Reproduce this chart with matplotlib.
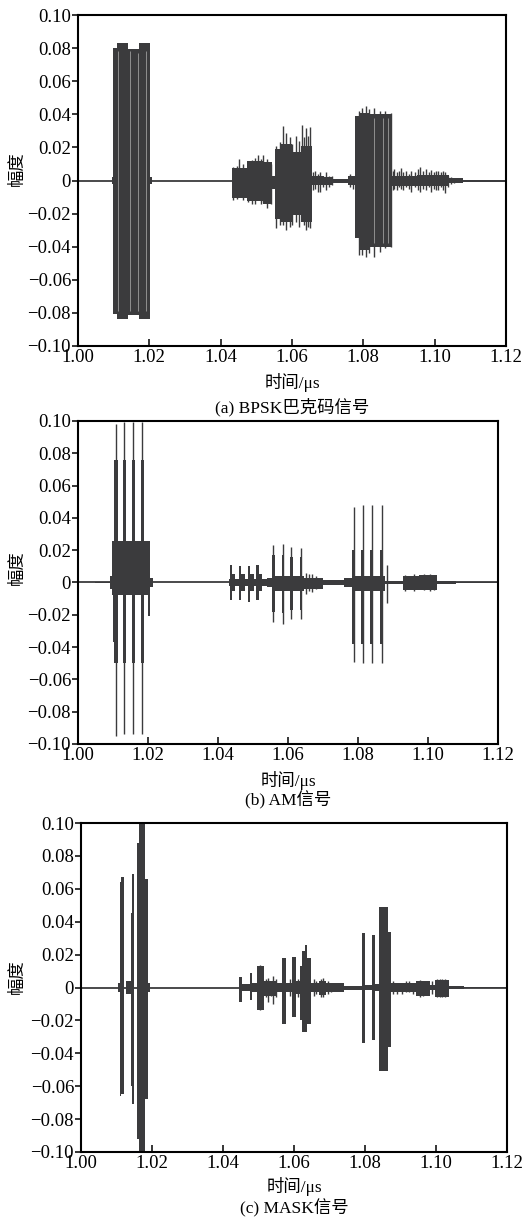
import numpy as np
import matplotlib
matplotlib.use("Agg")
import matplotlib.pyplot as plt

plt.rcParams['font.family'] = ['Liberation Serif', 'Noto Sans CJK SC', 'DejaVu Sans']
plt.rcParams['axes.unicode_minus'] = True

INK = '#3b3b3d'
W, H = 528, 1223

# ---- axis ticks ----
x_ticks = [1.00, 1.02, 1.04, 1.06, 1.08, 1.10, 1.12]
x_tick_labels = ['1.00', '1.02', '1.04', '1.06', '1.08', '1.10', '1.12']
y_ticks = [0.10, 0.08, 0.06, 0.04, 0.02, 0.0, -0.02, -0.04, -0.06, -0.08, -0.10]
y_tick_labels = ['0.10', '0.08', '0.06', '0.04', '0.02', '0',
                 '\u22120.02', '\u22120.04', '\u22120.06', '\u22120.08', '\u22120.10']
captions = ['(a) BPSK巴克码信号', '(b) AM信号', '(c) MASK信号']

# ---- (a) BPSK: envelope blocks (start, end, upper, lower) ----
bpsk_t0 = [1.0094, 1.0099, 1.0110, 1.0140, 1.0170, 1.0202,
           1.0431, 1.0473, 1.0520, 1.0545,
           1.0552, 1.0570, 1.0600, 1.0625,
           1.0655, 1.0690, 1.0716, 1.0758,
           1.0777, 1.0788, 1.0820,
           1.0880, 1.0950, 1.1039, 1.1080]
bpsk_t1 = [1.0099, 1.0110, 1.0140, 1.0170, 1.0202, 1.0208,
           1.0473, 1.0520, 1.0545, 1.0553,
           1.0570, 1.0600, 1.0625, 1.0655,
           1.0690, 1.0716, 1.0758, 1.0777,
           1.0788, 1.0820, 1.0880,
           1.0950, 1.1039, 1.1080, 1.1200]
bpsk_hi = [0.002, 0.0800, 0.0830, 0.0795, 0.0830, 0.002,
           0.0075, 0.0115, 0.0110, 0.003,
           0.019, 0.022, 0.017, 0.021,
           0.0025, 0.002, 0.0012, 0.003,
           0.039, 0.041, 0.040,
           0.003, 0.0035, 0.0015, 0.0006]
bpsk_lo = [-0.002, -0.0805, -0.0835, -0.0815, -0.0835, -0.002,
           -0.0105, -0.0125, -0.0140, -0.005,
           -0.023, -0.025, -0.021, -0.025,
           -0.003, -0.0025, -0.0015, -0.003,
           -0.035, -0.042, -0.040,
           -0.0035, -0.0035, -0.0015, -0.0008]
bpsk_spk_t = [1.0435, 1.0445, 1.0452, 1.0463, 1.0478, 1.0488, 1.0497, 1.0505, 1.0512,
              1.0519, 1.0529, 1.0540,
              1.0556, 1.0565, 1.0574, 1.0583, 1.0593, 1.0600, 1.0612, 1.0620,
              1.0627, 1.0633, 1.0639, 1.0645, 1.0650,
              1.0660, 1.0665, 1.0672, 1.0678, 1.0686, 1.0695, 1.0704, 1.0712, 1.0762, 1.0770,
              1.0787, 1.0795, 1.0808, 1.0816, 1.0830, 1.0848, 1.0862, 1.0878,
              1.0884, 1.0887, 1.0893, 1.0900, 1.0905, 1.0912, 1.0920, 1.0928, 1.0935,
              1.0945, 1.0953, 1.0960, 1.0968, 1.0975, 1.0983, 1.0990, 1.0998,
              1.1004, 1.1010, 1.1018, 1.1024, 1.1030, 1.1036, 1.1045, 1.1055]
bpsk_spk_hi = [0.008, 0.0085, 0.0127, 0.010, 0.012, 0.0125, 0.0135, 0.0155, 0.013,
               0.0157, 0.013, 0.010,
               0.021, 0.023, 0.0329, 0.0284, 0.026, 0.022, 0.027, 0.024,
               0.0335, 0.026, 0.0315, 0.027, 0.0325,
               0.005, 0.006, 0.004, 0.005, 0.003, 0.005, 0.003, 0.003, 0.004, 0.003,
               0.042, 0.044, 0.045, 0.043, 0.044, 0.042, 0.042, 0.041,
               0.006, 0.007, 0.005, 0.006, 0.0075, 0.005, 0.006, 0.004, 0.006,
               0.005, 0.007, 0.008, 0.006, 0.007, 0.005, 0.0065, 0.005,
               0.006, 0.006, 0.005, 0.0055, 0.005, 0.003, 0.002, 0.0015]
bpsk_spk_lo = [-0.012, -0.011, -0.010, -0.012, -0.013, -0.014, -0.014, -0.012, -0.0145,
               -0.013, -0.0168, -0.014,
               -0.029, -0.027, -0.027, -0.030, -0.028, -0.027, -0.025, -0.028,
               -0.024, -0.027, -0.030, -0.028, -0.029,
               -0.006, -0.005, -0.007, -0.007, -0.004, -0.006, -0.004, -0.003, -0.004, -0.005,
               -0.045, -0.045, -0.046, -0.044, -0.046, -0.043, -0.041, -0.040,
               -0.006, -0.005, -0.006, -0.004, -0.005, -0.006, -0.004, -0.005, -0.007,
               -0.004, -0.006, -0.007, -0.005, -0.006, -0.004, -0.007, -0.005,
               -0.006, -0.006, -0.004, -0.006, -0.0075, -0.004, -0.002, -0.0015]
bpsk_gap_t = [1.0113, 1.0146, 1.0167, 1.0191, 1.0830, 1.0856, 1.0868]
bpsk_gap_hi = [0.078, 0.078, 0.077, 0.078, 0.038, 0.038, 0.038]
bpsk_gap_lo = [-0.079, -0.079, -0.079, -0.079, -0.038, -0.038, -0.038]

# ---- (b) AM ----
am_t0 = [1.0050, 1.0092, 1.0097, 1.0100, 1.0104, 1.0128, 1.0154, 1.0180, 1.0200, 1.0206,
         1.0432, 1.0433, 1.0439, 1.0459, 1.0466, 1.0485, 1.0492, 1.0510, 1.0517, 1.0540,
         1.0553, 1.0555, 1.0582, 1.0606, 1.0633, 1.0645, 1.0700, 1.0760,
         1.0782, 1.0782, 1.0809, 1.0835, 1.0862, 1.0876, 1.0882,
         1.0928, 1.0975, 1.1025, 1.1080]
am_t1 = [1.0092, 1.0097, 1.0205, 1.0104, 1.0114, 1.0138, 1.0164, 1.0190, 1.0206, 1.0214,
         1.0540, 1.0439, 1.0449, 1.0466, 1.0476, 1.0492, 1.0502, 1.0517, 1.0527, 1.0553,
         1.0645, 1.0562, 1.0589, 1.0613, 1.0640, 1.0700, 1.0760, 1.0782,
         1.0876, 1.0789, 1.0816, 1.0842, 1.0869, 1.0928, 1.0886,
         1.0975, 1.1025, 1.1080, 1.1200]
am_hi = [0.0006, 0.004, 0.026, 0.026, 0.076, 0.076, 0.076, 0.076, 0.026, 0.003,
         0.002, 0.011, 0.005, 0.0105, 0.005, 0.010, 0.005, 0.011, 0.005, 0.003,
         0.004, 0.017, 0.017, 0.016, 0.016, 0.003, 0.0015, 0.003,
         0.004, 0.020, 0.020, 0.020, 0.020, 0.0012, 0.006,
         0.004, 0.0045, 0.001, 0.0004]
am_lo = [-0.0006, -0.004, -0.008, -0.037, -0.050, -0.050, -0.050, -0.050, -0.021, -0.003,
         -0.002, -0.011, -0.005, -0.011, -0.005, -0.012, -0.005, -0.011, -0.005, -0.003,
         -0.005, -0.018, -0.019, -0.017, -0.017, -0.004, -0.0018, -0.003,
         -0.005, -0.038, -0.038, -0.038, -0.038, -0.0012, -0.010,
         -0.0045, -0.0045, -0.001, -0.0004]
am_spk_t = [1.0108, 1.0132, 1.0158, 1.0184,
            1.0558, 1.0585, 1.0609, 1.0636, 1.0652, 1.0660, 1.0670, 1.0680,
            1.0788, 1.0815, 1.0841, 1.0868, 1.0884,
            1.0935, 1.0960, 1.0990, 1.1005, 1.1018]
am_spk_hi = [0.098, 0.0995, 0.0995, 0.0995,
             0.0232, 0.0238, 0.022, 0.0215, 0.006, 0.005, 0.005, 0.004,
             0.047, 0.048, 0.048, 0.048, 0.011,
             0.0048, 0.005, 0.005, 0.005, 0.0045]
am_spk_lo = [-0.095, -0.094, -0.094, -0.094,
             -0.0243, -0.026, -0.0228, -0.0228, -0.007, -0.005, -0.006, -0.004,
             -0.049, -0.050, -0.050, -0.050, -0.013,
             -0.005, -0.005, -0.0048, -0.005, -0.0045]
am_gap_t, am_gap_hi, am_gap_lo = [], [], []

# ---- (c) MASK ----
mask_t0 = [1.0104, 1.0110, 1.0114, 1.0127, 1.0140, 1.0144, 1.0159, 1.0164, 1.0179, 1.0188,
           1.0445, 1.0454, 1.0476, 1.0482, 1.0496, 1.0515, 1.0552, 1.0567, 1.0577, 1.0595,
           1.0606, 1.0616, 1.0623, 1.0631, 1.0638, 1.0647, 1.0670, 1.0689, 1.0740,
           1.0791, 1.0800, 1.0819, 1.0828, 1.0840, 1.0864,
           1.0872, 1.0944, 1.0982, 1.0998, 1.1038, 1.1080]
mask_t1 = [1.0110, 1.0114, 1.0121, 1.0140, 1.0144, 1.0150, 1.0164, 1.0179, 1.0188, 1.0195,
           1.0454, 1.0476, 1.0482, 1.0496, 1.0515, 1.0552, 1.0567, 1.0577, 1.0595, 1.0606,
           1.0616, 1.0623, 1.0631, 1.0638, 1.0647, 1.0670, 1.0689, 1.0740, 1.0791,
           1.0800, 1.0819, 1.0828, 1.0840, 1.0864, 1.0872,
           1.0944, 1.0982, 1.0998, 1.1038, 1.1080, 1.1200]
mask_hi = [0.003, 0.064, 0.067, 0.004, 0.045, 0.069, 0.088, 0.100, 0.066, 0.003,
           0.0066, 0.002, 0.0086, 0.003, 0.013, 0.004, 0.003, 0.0177, 0.003, 0.0187,
           0.004, 0.013, 0.022, 0.026, 0.018, 0.003, 0.004, 0.0025, 0.0012,
           0.033, 0.0015, 0.032, 0.002, 0.049, 0.034,
           0.0025, 0.004, 0.0015, 0.0045, 0.0012, 0.0005]
mask_lo = [-0.003, -0.066, -0.065, -0.004, -0.060, -0.071, -0.092, -0.100, -0.068, -0.003,
           -0.0086, -0.002, -0.0076, -0.003, -0.0137, -0.005, -0.003, -0.022, -0.003, -0.018,
           -0.004, -0.020, -0.027, -0.027, -0.022, -0.003, -0.0045, -0.0025, -0.0015,
           -0.034, -0.0015, -0.032, -0.002, -0.051, -0.036,
           -0.0025, -0.005, -0.0015, -0.0055, -0.0012, -0.0005]
mask_spk_t = [1.0504, 1.0520, 1.0527, 1.0534, 1.0541, 1.0548, 1.0588, 1.0612,
              1.0655, 1.0662, 1.0675, 1.0683, 1.0695, 1.0705,
              1.0880, 1.0890, 1.0905, 1.0915, 1.0925, 1.0935, 1.0955, 1.0962, 1.0990,
              1.1003, 1.1010, 1.1018, 1.1025, 1.1032]
mask_spk_hi = [0.0137, 0.005, 0.006, 0.004, 0.007, 0.005, 0.005, 0.005,
               0.005, 0.004, 0.005, 0.0055, 0.004, 0.003,
               0.004, 0.003, 0.003, 0.004, 0.004, 0.003, 0.0046, 0.004, 0.004,
               0.005, 0.0052, 0.005, 0.005, 0.004]
mask_spk_lo = [-0.0137, -0.006, -0.009, -0.005, -0.010, -0.006, -0.005, -0.006,
               -0.005, -0.004, -0.006, -0.0055, -0.004, -0.003,
               -0.004, -0.004, -0.004, -0.003, -0.003, -0.004, -0.0056, -0.005, -0.004,
               -0.006, -0.006, -0.006, -0.006, -0.005]
mask_gap_t, mask_gap_hi, mask_gap_lo = [], [], []

panels = [
    (bpsk_t0, bpsk_t1, bpsk_hi, bpsk_lo, bpsk_spk_t, bpsk_spk_hi, bpsk_spk_lo,
     bpsk_gap_t, bpsk_gap_hi, bpsk_gap_lo),
    (am_t0, am_t1, am_hi, am_lo, am_spk_t, am_spk_hi, am_spk_lo,
     am_gap_t, am_gap_hi, am_gap_lo),
    (mask_t0, mask_t1, mask_hi, mask_lo, mask_spk_t, mask_spk_hi, mask_spk_lo,
     mask_gap_t, mask_gap_hi, mask_gap_lo),
]

# axes boxes in pixels: left, right, top, bottom
boxes = [(78, 506, 15, 346), (78, 498, 421, 744), (81, 507, 823, 1152)]
xlabel_y = [382, 780, 1186]
caption_y = [407, 800, 1208]
ylabel_y = [169, 568, 977]

fig = plt.figure(figsize=(W / 100, H / 100), dpi=100)

for i, (t0, t1, hi, lo, st, sh, sl, gt, gh, gl) in enumerate(panels):
    l, r, t, b = boxes[i]
    ax = fig.add_axes([l / W, 1 - b / H, (r - l) / W, (b - t) / H])
    ax.axhline(0, color=INK, lw=1.3, zorder=1)
    t0 = np.array(t0); t1 = np.array(t1)
    hi = np.array(hi); lo = np.array(lo)
    ax.bar(t0, hi - lo, width=t1 - t0, bottom=lo, align='edge',
           color=INK, linewidth=0, zorder=2)
    if st:
        ax.vlines(st, sl, sh, color=INK, lw=1.0, zorder=3)
    if gt:
        ax.vlines(gt, gl, gh, color='#9c9c9c', lw=0.6, zorder=4)

    ax.set_xlim(1.00, 1.12)
    ax.set_ylim(-0.10, 0.10)
    ax.set_xticks(x_ticks)
    ax.set_xticklabels(x_tick_labels)
    ax.set_yticks(y_ticks)
    ax.set_yticklabels(y_tick_labels)
    ax.tick_params(axis='x', direction='in', length=5, width=1.1, pad=2, labelsize=13.5)
    ax.tick_params(axis='y', direction='out', length=4, width=1.1, pad=1, labelsize=13.5)
    for s in ax.spines.values():
        s.set_linewidth(1.5)

    cx = (l + r) / 2 / W
    fig.text(cx, 1 - xlabel_y[i] / H, '时间/μs', ha='center', va='center', fontsize=12.5)
    fig.text(cx, 1 - caption_y[i] / H, captions[i], ha='center', va='center', fontsize=12.5)
    fig.text(18 / W, 1 - ylabel_y[i] / H, '幅度', ha='center', va='center',
             rotation=90, fontsize=12.5)

fig.savefig('out.png', dpi=100)
